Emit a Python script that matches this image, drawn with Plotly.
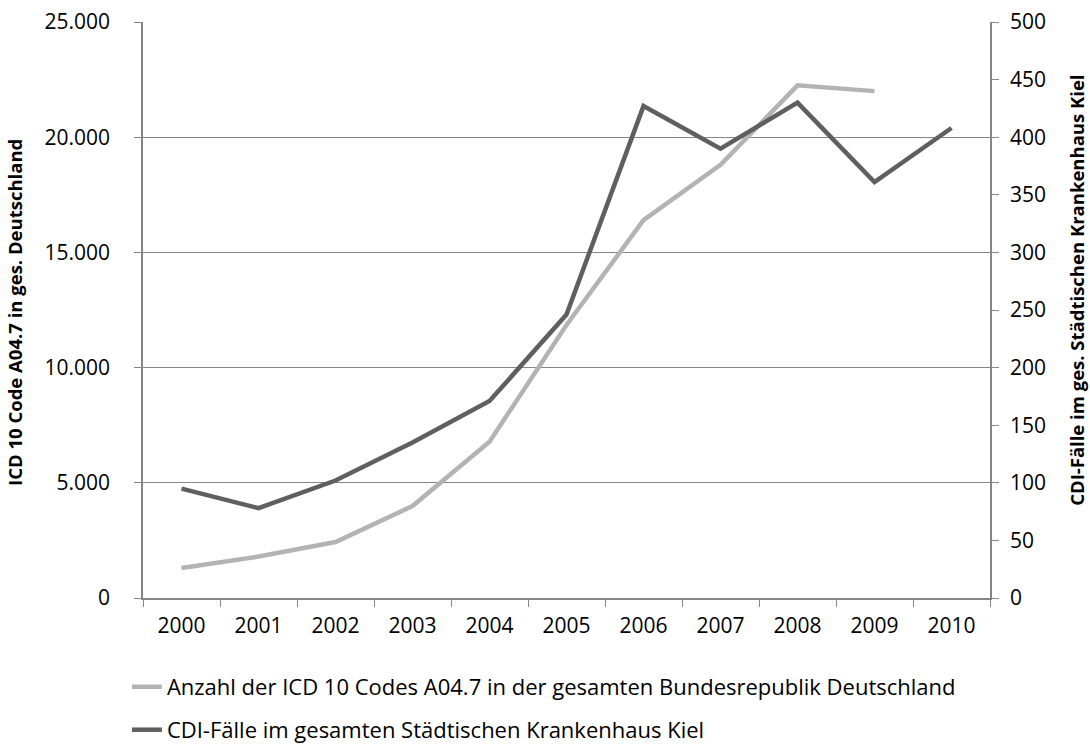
import plotly.graph_objects as go

years = ["2000", "2001", "2002", "2003", "2004", "2005", "2006", "2007", "2008", "2009", "2010"]
icd_germany = [1300, 1800, 2430, 3990, 6780, 11850, 16400, 18800, 22250, 22000, None]
cdi_kiel = [95, 78, 102, 135, 171, 246, 427, 390, 430, 361, 408]

name_icd = "Anzahl der ICD 10 Codes A04.7 in der gesamten Bundesrepublik Deutschland"
name_cdi = "CDI-Fälle im gesamten Städtischen Krankenhaus Kiel"
title_left = "ICD 10 Code A04.7 in ges. Deutschland"
title_right = "CDI-Fälle im ges. Städtischen Krankenhaus Kiel"

axis_col = "#868686"
tick_font = dict(size=21, family="Open Sans, sans-serif", color="black")
leg_font = dict(size=22, family="Open Sans, sans-serif", color="black")
title_font = dict(size=18.5, family="Open Sans, sans-serif", color="black")

fig = go.Figure()
fig.add_trace(go.Scatter(x=years, y=icd_germany, name=name_icd, mode="lines",
                         line=dict(color="#b3b3b3", width=4.5), yaxis="y", legend="legend"))
fig.add_trace(go.Scatter(x=years, y=cdi_kiel, name=name_cdi, mode="lines",
                         line=dict(color="#5f5f5f", width=4.5), yaxis="y2", legend="legend2"))

fig.update_layout(
    width=1090, height=744,
    margin=dict(l=143, r=100, t=22, b=146, autoexpand=False),
    paper_bgcolor="white", plot_bgcolor="white",
    separators=",.",
    showlegend=True,
    legend=dict(x=-0.019, xanchor="left", y=-0.1545, yanchor="middle",
                font=leg_font, bgcolor="rgba(0,0,0,0)"),
    legend2=dict(x=-0.019, xanchor="left", y=-0.229, yanchor="middle",
                 font=leg_font, bgcolor="rgba(0,0,0,0)"),
    xaxis=dict(type="category", range=[-0.5, 10.5], showgrid=False, showline=True,
               linecolor=axis_col, linewidth=1.5, automargin=False,
               ticks="outside", tickson="boundaries", ticklen=7, tickcolor=axis_col,
               ticklabelstandoff=8, tickfont=tick_font),
    yaxis=dict(range=[0, 25000], dtick=5000, tickformat=",d", showgrid=True, gridcolor=axis_col,
               gridwidth=1.2, showline=True, linecolor=axis_col, linewidth=1.5, zeroline=False,
               ticks="outside", ticklen=7, tickcolor=axis_col, automargin=False,
               ticklabeloverflow="allow", ticklabelstandoff=20, tickfont=tick_font),
    yaxis2=dict(range=[0, 500], dtick=50, overlaying="y", side="right", showgrid=False,
                showline=True, linecolor=axis_col, linewidth=1.5, zeroline=False,
                ticks="outside", ticklen=7, tickcolor=axis_col, automargin=False,
                ticklabeloverflow="allow", ticklabelstandoff=7, tickfont=tick_font),
    annotations=[
        dict(text="<b>" + title_left + "</b>", xref="paper", yref="paper",
             x=-0.151, y=0.495, xanchor="center", yanchor="middle", textangle=-90,
             showarrow=False, font=title_font),
        dict(text="<b>" + title_right + "</b>", xref="paper", yref="paper",
             x=1.1027, y=0.535, xanchor="center", yanchor="middle", textangle=-90,
             showarrow=False, font=title_font),
    ],
)

fig.write_html("out.html", config={"displayModeBar": False},
               post_script="document.body.style.margin='0px';")
